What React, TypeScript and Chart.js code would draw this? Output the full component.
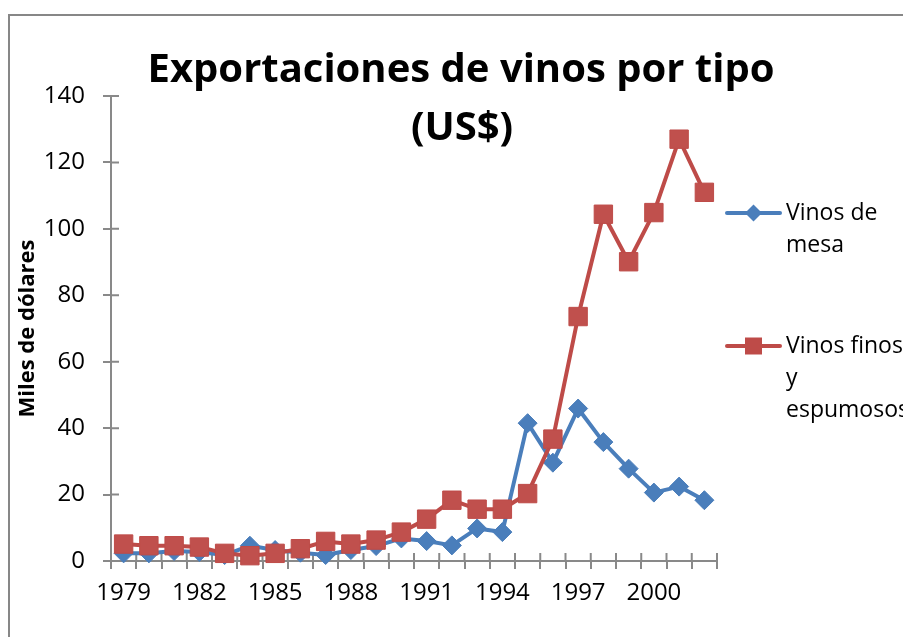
import { useEffect, useRef } from "react";
import { Chart, registerables } from "chart.js";

Chart.register(...registerables);

const years = [
  "1979", "1980", "1981", "1982", "1983", "1984", "1985", "1986",
  "1987", "1988", "1989", "1990", "1991", "1992", "1993", "1994",
  "1995", "1996", "1997", "1998", "1999", "2000", "2001", "2002",
];
const vinosDeMesa = [
  2.3, 2.3, 3.0, 2.7, 1.8, 4.6, 3.3, 2.5, 1.8, 3.3, 4.5, 6.8,
  6.0, 4.7, 9.8, 8.7, 41.5, 29.6, 45.9, 35.8, 27.8, 20.6, 22.4, 18.3,
];
const vinosFinos = [
  5.1, 4.6, 4.6, 4.2, 2.3, 1.6, 2.3, 3.7, 5.9, 5.1, 6.3, 8.7,
  12.6, 18.3, 15.6, 15.6, 20.3, 36.7, 73.6, 104.4, 90.1, 104.9, 127.0, 111.0,
];
const yTicks = { min: 0, max: 140, step: 20 };
const titleLines = ["Exportaciones de vinos por tipo", "(US$)"];
const yTitle = "Miles de dólares";
const legendItems = [
  { lines: ["Vinos de", "mesa"], color: "#4A7EBB", marker: "diamond" },
  { lines: ["Vinos finos", "y", "espumosos"], color: "#BE4B48", marker: "square" },
];

const FONT = "'Open Sans', 'Noto Sans', sans-serif";
const AXIS = "#898989";

const decorPlugin = {
  id: "decor",
  beforeDraw(chart: any) {
    const ctx = chart.ctx;
    ctx.save();
    ctx.fillStyle = "#ffffff";
    ctx.fillRect(0, 0, chart.width, chart.height);
    ctx.strokeStyle = "#878787";
    ctx.lineWidth = 2;
    ctx.strokeRect(9, 15, chart.width + 20, chart.height + 20);
    ctx.restore();
  },
  beforeDatasetsDraw(chart: any) {
    const ctx = chart.ctx;
    const xs = chart.scales.x;
    const ys = chart.scales.y;
    const area = chart.chartArea;
    ctx.save();
    ctx.strokeStyle = AXIS;
    ctx.lineWidth = 2;
    ctx.beginPath();
    for (let i = 0; i < ys.ticks.length; i++) {
      const y = ys.getPixelForTick(i);
      ctx.moveTo(area.left, y);
      ctx.lineTo(area.left + 8, y);
    }
    const n = years.length;
    const half = (xs.getPixelForValue(1) - xs.getPixelForValue(0)) / 2;
    for (let i = 0; i <= n; i++) {
      const x = i < n ? xs.getPixelForValue(i) - half : xs.getPixelForValue(n - 1) + half;
      ctx.moveTo(x, area.bottom);
      ctx.lineTo(x, area.bottom - 8);
    }
    ctx.stroke();
    ctx.restore();
  },
  afterDraw(chart: any) {
    const ctx = chart.ctx;
    ctx.save();
    ctx.fillStyle = "#000";
    ctx.textAlign = "center";
    ctx.textBaseline = "alphabetic";
    ctx.font = `bold 40px ${FONT}`;
    ctx.fillText(titleLines[0], 461, 82);
    ctx.fillText(titleLines[1], 462, 140);
    const ys = [213, 346];
    legendItems.forEach((item, k) => {
      const y = ys[k];
      ctx.strokeStyle = item.color;
      ctx.lineWidth = 4;
      ctx.lineCap = "round";
      ctx.beginPath();
      ctx.moveTo(727, y);
      ctx.lineTo(780, y);
      ctx.stroke();
      ctx.fillStyle = item.color;
      ctx.beginPath();
      if (item.marker === "diamond") {
        const r = 8.5;
        ctx.moveTo(753.5, y - r);
        ctx.lineTo(753.5 + r, y);
        ctx.lineTo(753.5, y + r);
        ctx.lineTo(753.5 - r, y);
        ctx.closePath();
      } else {
        const s = 8.5;
        ctx.rect(753.5 - s, y - s, 2 * s, 2 * s);
      }
      ctx.fill();
      ctx.fillStyle = "#000";
      ctx.textAlign = "left";
      ctx.textBaseline = "middle";
      ctx.font = `23px ${FONT}`;
      item.lines.forEach((t, j) => ctx.fillText(t, 786, y + j * 32));
    });
    ctx.restore();
  },
};

export default function App() {
  const ref = useRef<HTMLCanvasElement | null>(null);
  useEffect(() => {
    if (!ref.current) return;
    const chart = new Chart(ref.current, {
      type: "line",
      data: {
        labels: years,
        datasets: [
          {
            label: "Vinos de mesa",
            data: vinosDeMesa,
            borderColor: "#4A7EBB",
            backgroundColor: "#4A7EBB",
            pointBackgroundColor: "#4A7EBB",
            pointBorderColor: "#4A7EBB",
            pointStyle: "rectRot",
            pointRadius: 9.5,
            pointBorderWidth: 1,
            borderWidth: 4,
            borderJoinStyle: "round",
            borderCapStyle: "round",
            tension: 0,
            order: 1,
            clip: false,
          },
          {
            label: "Vinos finos y espumosos",
            data: vinosFinos,
            borderColor: "#BE4B48",
            backgroundColor: "#C0504D",
            pointBackgroundColor: "#C0504D",
            pointBorderColor: "#BE4B48",
            pointStyle: "rect",
            pointRadius: 13,
            pointBorderWidth: 1,
            borderWidth: 4,
            borderJoinStyle: "round",
            borderCapStyle: "round",
            tension: 0,
            order: 0,
            clip: false,
          },
        ],
      },
      options: {
        animation: false,
        responsive: false,
        maintainAspectRatio: false,
        devicePixelRatio: 1,
        layout: { padding: { left: 0, right: 186, top: 96, bottom: 0 } },
        plugins: {
          legend: { display: false },
          title: { display: false },
          tooltip: { enabled: false },
        },
        scales: {
          x: {
            type: "category",
            offset: true,
            afterFit: (s: any) => { s.height = 76; },
            grid: { offset: true, drawOnChartArea: false, drawTicks: true, tickLength: 8, color: AXIS, lineWidth: 2 },
            border: { color: AXIS, width: 2 },
            ticks: {
              autoSkip: false,
              maxRotation: 0,
              minRotation: 0,
              padding: 10,
              color: "#000",
              font: { family: FONT, size: 24 },
              callback: (_v: any, i: number) => (i % 3 === 0 ? years[i] : ""),
            },
          },
          y: {
            min: yTicks.min,
            max: yTicks.max,
            afterFit: (s: any) => { s.width = 111; },
            grid: { drawOnChartArea: false, drawTicks: true, tickLength: 8, color: AXIS, lineWidth: 2 },
            border: { color: AXIS, width: 2 },
            ticks: {
              stepSize: yTicks.step,
              padding: 18,
              color: "#000",
              font: { family: FONT, size: 24 },
            },
            title: {
              display: true,
              text: yTitle,
              color: "#000",
              font: { family: FONT, size: 22, weight: "bold" },
              padding: { top: 15, bottom: 0 },
            },
          },
        },
      },
      plugins: [decorPlugin],
    });
    return () => chart.destroy();
  }, []);
  return (
    <div style={{ position: "absolute", left: 0, top: 0, width: 903, height: 637 }}>
      <canvas ref={ref} width={903} height={637} style={{ display: "block", width: 903, height: 637 }} />
    </div>
  );
}
